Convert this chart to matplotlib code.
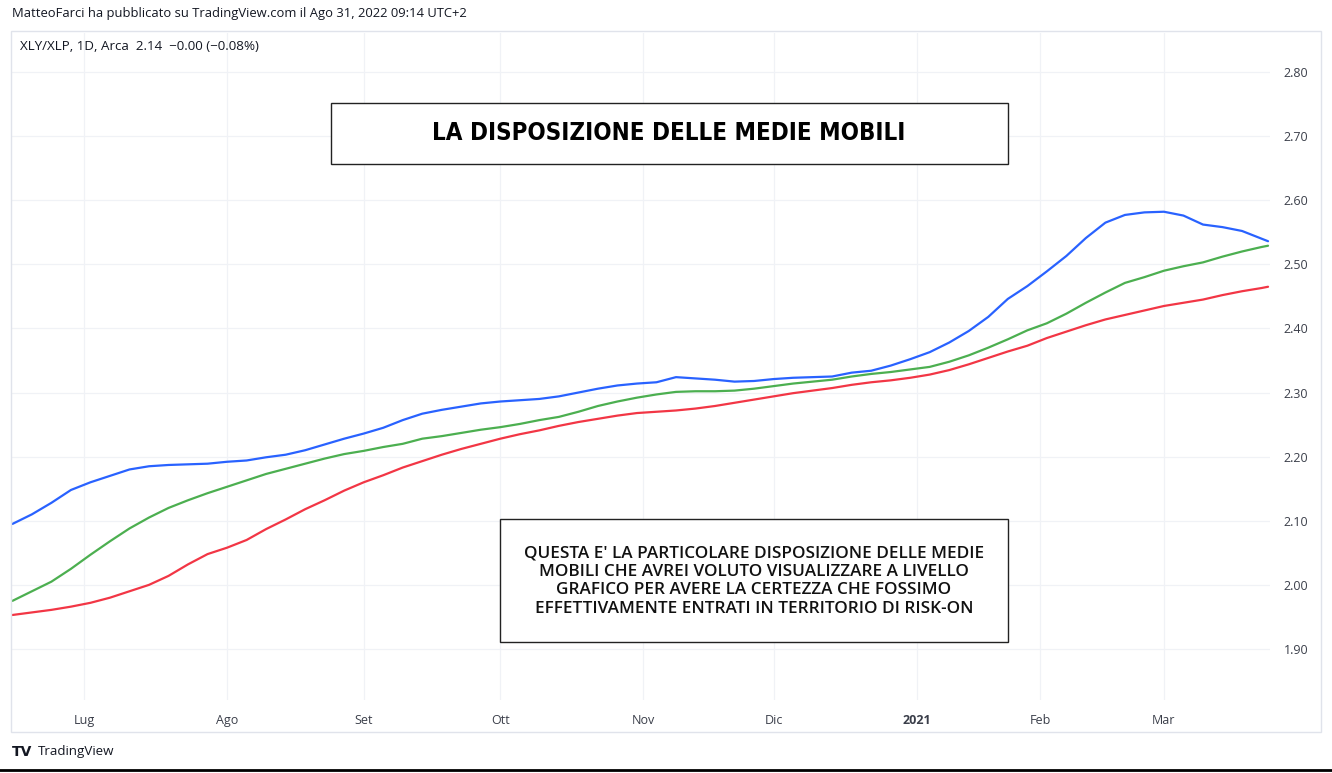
import matplotlib
matplotlib.use("Agg")
import matplotlib.pyplot as plt
from matplotlib.patches import Rectangle
from matplotlib.lines import Line2D
from matplotlib import font_manager as fm

# ---- data (bar index = trading-day index from 16 Jun 2020) ----
bars = [0, 3, 6, 9, 12, 15, 18, 21, 24, 27, 30, 33, 36, 39, 42, 45, 48, 51, 54, 57,
        60, 63, 66, 69, 72, 75, 78, 81, 84, 87, 90, 93, 96, 99, 102, 105, 108, 111,
        114, 117, 120, 123, 126, 129, 132, 135, 138, 141, 144, 147, 150, 153, 156,
        159, 162, 165, 168, 171, 174, 177, 180, 183, 186, 189, 192, 193]

ma_fast = [2.095, 2.110, 2.128, 2.148, 2.160, 2.170, 2.180, 2.185, 2.187, 2.188,
           2.189, 2.192, 2.194, 2.199, 2.203, 2.210, 2.219, 2.228, 2.236, 2.245,
           2.257, 2.267, 2.273, 2.278, 2.283, 2.286, 2.288, 2.290, 2.294, 2.300,
           2.306, 2.311, 2.314, 2.316, 2.324, 2.322, 2.320, 2.317, 2.318, 2.321,
           2.323, 2.324, 2.325, 2.331, 2.334, 2.342, 2.352, 2.363, 2.378, 2.396,
           2.418, 2.446, 2.466, 2.489, 2.513, 2.541, 2.565, 2.577, 2.581, 2.582,
           2.576, 2.562, 2.558, 2.552, 2.540, 2.536]

ma_mid = [1.975, 1.990, 2.005, 2.025, 2.047, 2.068, 2.088, 2.105, 2.120, 2.132,
          2.143, 2.153, 2.163, 2.173, 2.181, 2.189, 2.197, 2.204, 2.209, 2.215,
          2.220, 2.228, 2.232, 2.237, 2.242, 2.246, 2.251, 2.257, 2.262, 2.270,
          2.279, 2.286, 2.292, 2.297, 2.301, 2.302, 2.302, 2.303, 2.306, 2.310,
          2.314, 2.317, 2.320, 2.325, 2.329, 2.332, 2.336, 2.340, 2.348, 2.358,
          2.370, 2.383, 2.397, 2.408, 2.423, 2.440, 2.456, 2.471, 2.480, 2.490,
          2.497, 2.503, 2.512, 2.520, 2.527, 2.529]

ma_slow = [1.953, 1.957, 1.961, 1.966, 1.972, 1.980, 1.990, 2.000, 2.014, 2.032,
           2.048, 2.058, 2.070, 2.087, 2.102, 2.118, 2.132, 2.147, 2.160, 2.171,
           2.183, 2.193, 2.203, 2.212, 2.220, 2.228, 2.235, 2.241, 2.248, 2.254,
           2.259, 2.264, 2.268, 2.270, 2.272, 2.275, 2.279, 2.284, 2.289, 2.294,
           2.299, 2.303, 2.307, 2.312, 2.316, 2.319, 2.323, 2.328, 2.335, 2.344,
           2.354, 2.364, 2.373, 2.385, 2.395, 2.405, 2.414, 2.421, 2.428, 2.435,
           2.440, 2.445, 2.452, 2.458, 2.463, 2.465]

month_ticks = [11, 33, 54, 75, 97, 117, 139, 158, 177]
month_labels = ["Lug", "Ago", "Set", "Ott", "Nov", "Dic", "2021", "Feb", "Mar"]
price_ticks = [1.90, 2.00, 2.10, 2.20, 2.30, 2.40, 2.50, 2.60, 2.70, 2.80]

title_text = "LA DISPOSIZIONE DELLE MEDIE MOBILI"
note_text = ("QUESTA E' LA PARTICOLARE DISPOSIZIONE DELLE MEDIE\n"
             "MOBILI CHE AVREI VOLUTO VISUALIZZARE A LIVELLO\n"
             "GRAFICO PER AVERE LA CERTEZZA CHE FOSSIMO\n"
             "EFFETTIVAMENTE ENTRATI IN TERRITORIO DI RISK-ON")

FONT = ["Open Sans", "DejaVu Sans"]
plt.rcParams["font.family"] = FONT

# pick a condensed bold face for the title if one is installed
title_font = None
for f in fm.fontManager.ttflist:
    if f.stretch in ("condensed", "semi-condensed", "extra-condensed") and \
            f.weight in ("bold", 700) and f.style == "normal":
        if f.name in ("Noto Sans", "DejaVu Sans", "Open Sans", "Roboto",
                      "Noto Sans Condensed", "Open Sans Condensed", "Roboto Condensed",
                      "DejaVu Sans Condensed", "Liberation Sans Narrow"):
            title_font = f
            break

W, H = 1332, 773
fig = plt.figure(figsize=(W / 100, H / 100), dpi=100)
fig.patch.set_facecolor("white")

def fx(px):
    return px / W

def fy(py):
    return 1 - py / H

# axes: data area from x=12..1270, y=33..700
ax = fig.add_axes([fx(12), fy(700), fx(1270) - fx(12), fy(33) - fy(700)])
ax.set_facecolor("white")

ax.plot(bars, ma_slow, color="#F23645", lw=1.6, solid_capstyle="round")
ax.plot(bars, ma_mid, color="#4CAF50", lw=1.6, solid_capstyle="round")
ax.plot(bars, ma_fast, color="#2962FF", lw=1.6, solid_capstyle="round")

ax.set_xlim(-0.06, 193.3)
ax.set_ylim(1.8204, 2.8608)

ax.set_xticks(month_ticks)
ax.set_xticklabels(month_labels)
for lbl in ax.get_xticklabels():
    if lbl.get_text() == "2021":
        lbl.set_fontweight("bold")
ax.set_yticks(price_ticks)
ax.set_yticklabels([f"{v:.2f}" for v in price_ticks])
ax.yaxis.tick_right()
ax.tick_params(axis="both", length=0, colors="#131722", labelsize=9)
ax.tick_params(axis="y", pad=10)
ax.tick_params(axis="x", pad=10)
for lbl in ax.get_xticklabels() + ax.get_yticklabels():
    lbl.set_color("#3b3f4a")

ax.grid(True, color="#f0f2f6", lw=0.9)
ax.set_axisbelow(True)
for s in ax.spines.values():
    s.set_visible(False)

# outer chart frame
fig.add_artist(Rectangle((fx(11), fy(732)), fx(1321) - fx(11), fy(31) - fy(732),
                         transform=fig.transFigure, fill=False,
                         edgecolor="#e0e3eb", lw=1.0))

# header texts
fig.text(fx(12), fy(14), "MatteoFarci ha pubblicato su TradingView.com il Ago 31, 2022 09:14 UTC+2",
         fontsize=9.4, color="#131722", va="center", ha="left")
fig.text(fx(20), fy(47), "XLY/XLP, 1D, Arca  2.14  \u22120.00 (\u22120.08%)",
         fontsize=9.6, color="#131722", va="center", ha="left")

# annotation boxes
fig.add_artist(Rectangle((fx(331), fy(164)), fx(1008) - fx(331), fy(103) - fy(164),
                         transform=fig.transFigure, facecolor="white",
                         edgecolor="#222222", lw=1.0))
if title_font is not None:
    tprops = fm.FontProperties(fname=title_font.fname, size=17.3)
    t = fig.text(fx(669), fy(133), title_text, fontproperties=tprops,
                 color="black", ha="center", va="center")
else:
    t = fig.text(fx(669), fy(133), title_text, fontsize=16, fontweight="bold",
                 color="black", ha="center", va="center", family=["Roboto", "DejaVu Sans"])

fig.add_artist(Rectangle((fx(500), fy(642)), fx(1008) - fx(500), fy(519) - fy(642),
                         transform=fig.transFigure, facecolor="white",
                         edgecolor="#222222", lw=1.0))
fig.text(fx(754), fy(581), note_text, fontsize=12.3, fontweight="semibold",
         color="#111111", ha="center", va="center", linespacing=1.2,
         family=["Open Sans", "DejaVu Sans"])

# footer
fig.text(fx(12), fy(752), "TV", fontsize=10, fontweight="heavy", color="#131722",
         va="center", ha="left", family=["DejaVu Sans"])
fig.text(fx(38), fy(752), "TradingView", fontsize=9.6, color="#131722",
         va="center", ha="left")
fig.add_artist(Line2D([0, 1], [fy(770), fy(770)], transform=fig.transFigure,
                      color="black", lw=2))

fig.savefig("out.png", dpi=100)
